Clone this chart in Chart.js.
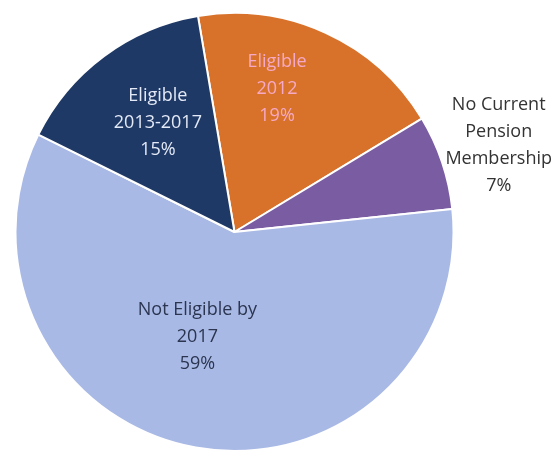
<!DOCTYPE html>
<html><head><meta charset="utf-8">
<script src="https://cdn.jsdelivr.net/npm/chart.js@4"></script>
<style>html,body{margin:0;padding:0;background:#fff}#wrap{width:555px;height:452px;position:relative}</style>
</head><body><div id="wrap"><canvas id="c"></canvas></div>
<script>
const categories = ["Eligible 2012", "No Current Pension Membership", "Not Eligible by 2017", "Eligible 2013-2017"];
const labelLines = [["Eligible","2012","19%"],["No Current","Pension","Membership","7%"],["Not Eligible by","2017","59%"],["Eligible","2013-2017","15%"]];
const shares = [19, 7, 59, 15];
const colors = ["#D8722B", "#7A5CA3", "#A9B9E5", "#1F3966"];
const textColors = ["#F6A9C6", "#333333", "#2B3550", "#E3E9F6"];
const placement = [{off:-8, r:0.68},{off:0.4, r:1.27},{off:9.2, r:0.51},{off:1.6, r:0.61}];

const labelPlugin = {
  id: 'sliceLabels',
  afterDatasetsDraw(chart) {
    const ctx = chart.ctx;
    const meta = chart.getDatasetMeta(0);
    ctx.save();
    ctx.font = '18px "Open Sans", "Noto Sans", sans-serif';
    ctx.textAlign = 'center';
    ctx.textBaseline = 'middle';
    meta.data.forEach((arc, i) => {
      const p = placement[i];
      const mid = (arc.startAngle + arc.endAngle) / 2 + p.off * Math.PI / 180;
      const rr = arc.outerRadius * p.r;
      const cx = arc.x + Math.cos(mid) * rr;
      const cy = arc.y + Math.sin(mid) * rr;
      const lines = labelLines[i];
      const lh = 27;
      ctx.fillStyle = textColors[i];
      lines.forEach((t, k) => {
        ctx.fillText(t, cx, cy + (k - (lines.length - 1) / 2) * lh);
      });
    });
    ctx.restore();
  }
};

new Chart(document.getElementById('c'), {
  type: 'pie',
  data: { labels: categories, datasets: [{ data: shares, backgroundColor: colors, borderColor: '#ffffff', borderWidth: 2 }] },
  options: {
    responsive: true, maintainAspectRatio: false, animation: false,
    rotation: -9.6,
    layout: { padding: { left: 0, right: 86, top: 12, bottom: 0 } },
    plugins: { legend: { display: false }, tooltip: { enabled: false } }
  },
  plugins: [labelPlugin]
});
</script></body></html>
